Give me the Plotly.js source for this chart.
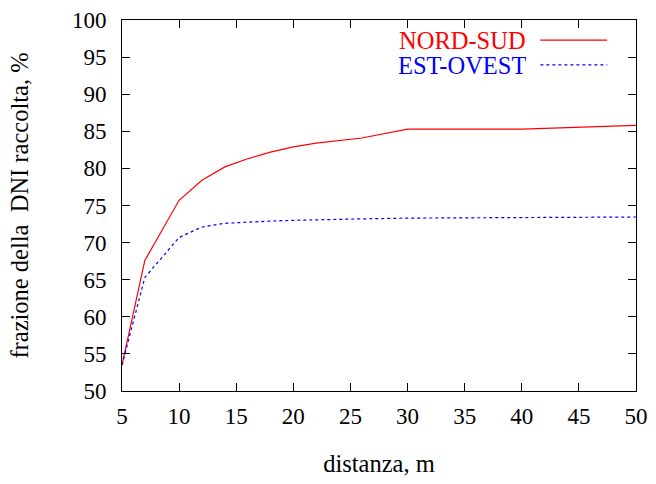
<!DOCTYPE html>
<html><head><meta charset="utf-8">
<script src="https://cdn.plot.ly/plotly-3.0.1.min.js"></script>
<style>body{margin:0;background:#fff}#c{width:656px;height:484px}</style>
</head><body><div id="c"></div>
<script>
const distNS = [5, 7, 10, 12, 14, 16, 18, 20, 22, 24, 26, 30, 40, 50];
const fracNS = [53.5, 67.6, 75.7, 78.4, 80.2, 81.3, 82.2, 82.9, 83.4, 83.8, 84.1, 85.3, 85.3, 85.8];
const distEO = [5, 7, 10, 12, 14, 16, 18, 20, 22, 24, 26, 30, 40, 50];
const fracEO = [53.5, 65.3, 70.7, 72.1, 72.6, 72.8, 72.9, 73.0, 73.1, 73.15, 73.2, 73.3, 73.35, 73.45];
const nameNS = "NORD-SUD", nameEO = "EST-OVEST";
const xTicks = [5,10,15,20,25,30,35,40,45,50];
const yTicks = [50,55,60,65,70,75,80,85,90,95,100];

const fam = "Liberation Serif, Times New Roman, serif";
const tickFont = {family: fam, size: 23, color: "#000"};
const font = {family: fam, size: 24.5, color: "#000"};
const data = [
  {x: distNS, y: fracNS, type: "scatter", mode: "lines", name: nameNS, line: {color: "#ff0000", width: 1.2}},
  {x: distEO, y: fracEO, type: "scatter", mode: "lines", name: nameEO, line: {color: "#0000ff", width: 1.2, dash: "dot"}}
];
const ax = {showgrid: false, zeroline: false, showline: true, linecolor: "#000", linewidth: 1, mirror: "allticks",
  ticks: "inside", ticklen: 8, tickcolor: "#000", tickwidth: 1, tickfont: tickFont};
const layout = {
  width: 656, height: 484, margin: {l: 121.5, r: 20, t: 20, b: 93},
  paper_bgcolor: "#fff", plot_bgcolor: "#fff", showlegend: false, font: font,
  xaxis: Object.assign({}, ax, {range: [5, 50], tickvals: xTicks, ticktext: xTicks.map(String), ticklabelstandoff: 4,
    title: {text: "distanza, m", font: font, standoff: 27}}),
  yaxis: Object.assign({}, ax, {range: [50, 100], tickvals: yTicks, ticktext: yTicks.map(String), ticklabelstandoff: 10,
    title: {text: "frazione della  DNI raccolta, %", font: font, standoff: 36}}),
  annotations: [
    {xref: "paper", yref: "paper", x: 0.787, y: 0.946, xanchor: "right", yanchor: "middle", showarrow: false,
     height: 22, borderpad: 0, text: nameNS, font: Object.assign({}, font, {color: "#ff0000"})},
    {xref: "paper", yref: "paper", x: 0.787, y: 0.879, xanchor: "right", yanchor: "middle", showarrow: false,
     height: 22, borderpad: 0, text: nameEO, font: Object.assign({}, font, {color: "#0000ff"})}
  ],
  shapes: [
    {type: "line", xref: "paper", yref: "paper", x0: 0.814, x1: 0.944, y0: 0.946, y1: 0.946, line: {color: "#ff0000", width: 1.2}},
    {type: "line", xref: "paper", yref: "paper", x0: 0.814, x1: 0.944, y0: 0.879, y1: 0.879, line: {color: "#0000ff", width: 1.2, dash: "dot"}}
  ]
};
Plotly.newPlot("c", data, layout, {displayModeBar: false});
</script></body></html>
